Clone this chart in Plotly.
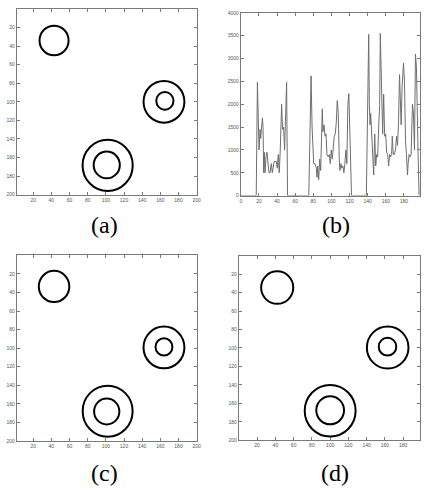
import plotly.graph_objects as go

W, H = 424, 491

# ---- circle panels: centers (x, y) and radii, in image-pixel units ----
a_cx = [43, 164, 165, 102, 101]
a_cy = [34, 100, 99, 168.5, 168]
a_r = [16, 22.5, 9.5, 27.6, 14.4]

c_cx = [43, 164, 164, 102, 101]
c_cy = [33.5, 99.3, 98.7, 168, 168.3]
c_r = [16.8, 22.5, 9.3, 27.5, 13.9]

d_cx = [42, 163, 162.8, 100, 100]
d_cy = [34.6, 99.5, 98.6, 168, 167.5]
d_r = [17.6, 22.8, 9.6, 27.9, 15.2]

# ---- profile panel (b) ----
b_x = [0, 17, 17.5, 18.3, 19, 20.1, 21.2, 21.9, 22.7, 23.8, 24.5, 25.2, 26, 26.7, 27.8,
       28.9, 30, 31.1, 32.2, 33.6, 34.7, 35.8, 36.9, 39.1, 40.2, 41.3, 42.4, 43.5, 45,
       46.1, 47.2, 48.3, 49.4, 50.5, 51.2, 51.5,
       75, 76, 77.5, 78.6, 80.4, 81.9, 83.3, 84.1, 84.8, 85.9, 87, 88.1, 89.2, 89.9, 90.6,
       91.8, 92.9, 94, 95, 96.5, 97.6, 98.7, 99.8, 100.9, 102, 103.1, 104.2, 105.3, 106.4,
       107.5, 108.6, 109.3, 110.4, 111.5, 112.6, 113.7, 114.8, 115.9, 117, 118.1, 119.2,
       120.3, 121.4, 122.1,
       138.5, 138.9, 140, 141.1, 141.8, 142.6, 143.3, 144.4, 145.5, 146.6, 147.7, 148.8,
       149.9, 151, 152.1, 153.2, 153.9, 154.7, 155.4, 156.5, 157.6, 158.7, 159.8, 160.9,
       162, 163.1, 164.2, 165.3, 166.4, 167.1, 168.2, 169.3, 170.7, 171.8, 172.9, 174,
       175.1, 176.2, 176.9, 178, 179.5, 180.6, 181.7, 182.8, 183.9, 184.6, 185.7, 186.8,
       187.9, 189.4, 190.5, 191.6, 192.7, 193.8, 194.9, 195.6, 196.7]
b_y = [0, 0, 1000, 2480, 1900, 1000, 1450, 1250, 1450, 1700, 1500, 500, 950, 500, 850,
       950, 700, 500, 500, 700, 500, 700, 750, 750, 600, 900, 500, 1000, 2000,
       1450, 1500, 1000, 1990, 2480, 800, 0,
       0, 1200, 2620, 1500, 700, 700, 600, 400, 650, 350, 800, 550, 1300, 1900, 1400,
       1550, 1300, 1350, 900, 850, 900, 700, 1000, 800, 1050, 1300, 1350, 1600, 2080,
       1800, 800, 550, 700, 600, 650, 500, 700, 1000, 700, 2000, 2230,
       1400, 600, 0,
       0, 500, 2400, 3530, 2000, 1550, 1800, 1300, 900, 450, 1350, 650,
       900, 850, 1500, 2000, 3550, 2900, 1800, 1350, 2220, 1300, 1350, 950,
       900, 650, 900, 850, 900, 1300, 900, 900, 1000, 1300, 1100, 1600,
       2650, 1800, 1550, 2400, 2900, 2500, 1200, 900, 450, 700, 900, 850,
       900, 2000, 1800, 1000, 3100, 2800, 2000, 900, 0]

img_ticks = list(range(20, 201, 20))
b_xticks = list(range(0, 201, 20))
b_yticks = list(range(0, 4001, 500))
labels = ["(a)", "(b)", "(c)", "(d)"]


def px_dom_x(l, r):
    return [l / W, r / W]


def px_dom_y(t, b):
    return [1 - b / H, 1 - t / H]


fig = go.Figure()

axis_common = dict(showline=True, linecolor="#7a7a7a", linewidth=1, mirror="allticks",
                   ticks="inside", ticklen=3, tickcolor="#7a7a7a", showgrid=False,
                   zeroline=False, tickfont=dict(size=5, color="#555", family="Liberation Sans"))

layout = dict(width=W, height=H, margin=dict(l=0, r=0, t=0, b=0),
              paper_bgcolor="white", plot_bgcolor="white", showlegend=False)

# axes: 1=(a), 2=(b), 3=(c), 4=(d)
layout["xaxis"] = dict(axis_common, domain=px_dom_x(16, 198), range=[2, 200],
                       tickvals=img_ticks, anchor="y")
layout["yaxis"] = dict(axis_common, domain=px_dom_y(6, 194), range=[200, 0],
                       tickvals=img_ticks, anchor="x")
layout["xaxis2"] = dict(axis_common, domain=px_dom_x(242.7, 424), range=[0, 197.7],
                        tickvals=b_xticks, anchor="y2")
layout["yaxis2"] = dict(axis_common, domain=px_dom_y(10, 195), range=[0, 4000],
                        tickvals=b_yticks, anchor="x2")
layout["xaxis3"] = dict(axis_common, domain=px_dom_x(16, 198), range=[2, 200],
                        tickvals=img_ticks, anchor="y3")
layout["yaxis3"] = dict(axis_common, domain=px_dom_y(255.5, 443.3), range=[200, 0],
                        tickvals=img_ticks, anchor="x3")
layout["xaxis4"] = dict(axis_common, domain=px_dom_x(240.7, 424), range=[0, 198.4],
                        tickvals=img_ticks, anchor="y4")
layout["yaxis4"] = dict(axis_common, domain=px_dom_y(255.8, 442.7), range=[200, 0],
                        tickvals=img_ticks, anchor="x4")

# invisible traces to register axes
for xs, ys in [("x", "y"), ("x3", "y3"), ("x4", "y4")]:
    fig.add_trace(go.Scatter(x=[None], y=[None], xaxis=xs, yaxis=ys, mode="markers",
                             hoverinfo="skip"))

fig.add_trace(go.Scatter(x=b_x, y=b_y, xaxis="x2", yaxis="y2", mode="lines",
                         line=dict(color="#6e6e6e", width=1), hoverinfo="skip"))

shapes = []
for (cx, cy, rr, xr, yr) in [(a_cx, a_cy, a_r, "x", "y"), (c_cx, c_cy, c_r, "x3", "y3"),
                             (d_cx, d_cy, d_r, "x4", "y4")]:
    for X, Y, R in zip(cx, cy, rr):
        shapes.append(dict(type="circle", xref=xr, yref=yr, x0=X - R, x1=X + R,
                           y0=Y - R, y1=Y + R, line=dict(color="black", width=2)))
layout["shapes"] = shapes

lab_pos = [(105, 225), (339, 225), (105, 476), (338, 476)]
layout["annotations"] = [dict(text=t, x=px / W, y=1 - py / H, xref="paper", yref="paper",
                              showarrow=False, xanchor="center", yanchor="middle",
                              font=dict(family="Liberation Serif, Times New Roman, serif",
                                        size=24, color="black"))
                         for t, (px, py) in zip(labels, lab_pos)]

fig.update_layout(**layout)
fig.write_html("out.html", config={"displayModeBar": False},
               post_script="document.body.style.margin='0';document.body.style.padding='0';document.body.style.overflow='hidden';")
